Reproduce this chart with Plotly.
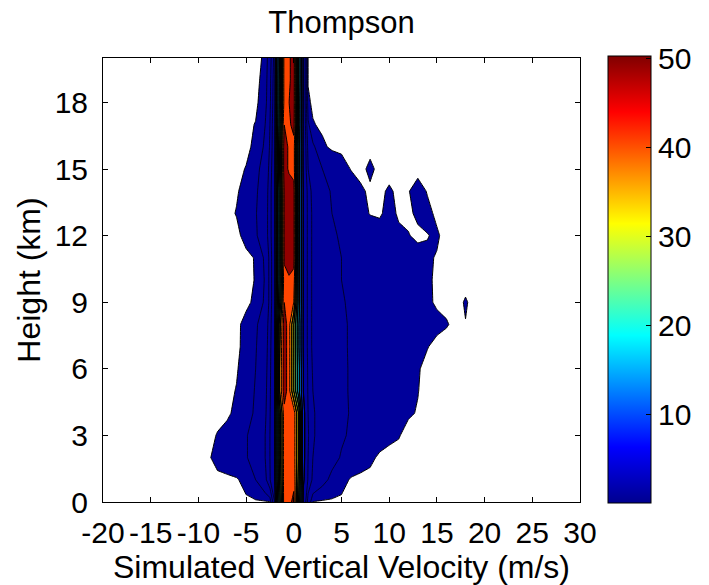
import plotly.graph_objects as go

# Velocity bin centres (m/s) and height levels (km)
velocity = [-10, -9, -8, -7, -6, -5, -4, -3, -2.5, -2, -1.5, -1, -0.5, 0, 0.5, 1, 1.5,
            2, 3, 4, 5, 6, 7, 8, 9, 10, 11, 12, 13, 14, 15, 16, 17, 18, 19]
height = [0, 1, 2, 3, 4, 5, 6, 7, 8, 9, 10, 11, 12, 13, 14, 15, 16, 17, 18, 19, 20]

# Frequency (%) of each velocity bin, one row per height level (bottom to top)
freq = [
    [0, 0, 0, 0, 0, 0, 0, 0, 0.03, 2.5, 22, 43, 44, 46, 25, 4, 1.0, 0.03, 0, 0, 0, 0, 0, 0, 0, 0, 0, 0, 0, 0, 0, 0, 0, 0, 0],
    [0, 0, 0, 0, 0.02, 0.15, 0.5, 1.2, 2.4, 4.5, 25, 43, 44, 44, 28, 5.5, 2.3, 1.3, 0.7, 0.35, 0.15, 0.02, 0, 0, 0, 0, 0, 0, 0, 0, 0, 0, 0, 0, 0],
    [0, 0.02, 0.12, 0.2, 0.32, 0.45, 0.8, 1.5, 2.5, 4.6, 26, 43, 44, 43, 30, 6, 2.5, 1.5, 1.0, 0.7, 0.45, 0.28, 0.16, 0.09, 0.02, 0, 0, 0, 0, 0, 0, 0, 0, 0, 0],
    [0, 0, 0.06, 0.15, 0.3, 0.45, 0.8, 1.5, 2.5, 4.6, 26, 43, 44, 43, 30, 6, 2.6, 1.6, 1.1, 0.8, 0.58, 0.42, 0.3, 0.21, 0.14, 0.09, 0.06, 0, 0, 0, 0, 0, 0, 0, 0],
    [0, 0, 0, 0, 0.12, 0.25, 0.6, 1.3, 2.4, 4.5, 26, 43, 44, 43, 30, 6, 2.5, 1.6, 1.1, 0.82, 0.62, 0.46, 0.35, 0.26, 0.19, 0.14, 0.1, 0.07, 0.04, 0, 0, 0, 0, 0, 0],
    [0, 0, 0, 0, 0.06, 0.2, 0.55, 1.2, 2.3, 4.4, 35, 48, 42, 30, 17, 5, 2.3, 1.5, 1.05, 0.8, 0.6, 0.45, 0.35, 0.26, 0.19, 0.14, 0.1, 0.075, 0.055, 0, 0, 0, 0, 0, 0],
    [0, 0, 0, 0, 0.03, 0.16, 0.5, 1.1, 2.2, 4.3, 35, 48, 42, 30, 17, 5, 2.2, 1.4, 1.0, 0.78, 0.6, 0.45, 0.35, 0.27, 0.2, 0.15, 0.11, 0.08, 0.06, 0.02, 0, 0, 0, 0, 0],
    [0, 0, 0, 0, 0, 0.13, 0.45, 1.0, 2.1, 4.2, 34, 48, 42, 30, 16, 4.5, 2.1, 1.3, 0.95, 0.75, 0.58, 0.45, 0.36, 0.29, 0.23, 0.18, 0.14, 0.11, 0.08, 0.055, 0.02, 0, 0, 0, 0],
    [0, 0, 0, 0, 0, 0.12, 0.4, 0.9, 2.0, 4.0, 32, 48, 42, 30, 16, 4.5, 2.1, 1.3, 0.95, 0.75, 0.58, 0.45, 0.36, 0.29, 0.23, 0.19, 0.16, 0.13, 0.11, 0.09, 0.08, 0.06, 0.02, 0.045, 0],
    [0, 0, 0, 0, 0, 0, 0.1, 0.6, 1.8, 3.8, 24, 45, 44, 40, 18, 4.5, 2.1, 1.3, 0.9, 0.7, 0.55, 0.42, 0.33, 0.26, 0.21, 0.17, 0.14, 0.12, 0.1, 0.07, 0.035, 0.02, 0, 0.065, 0],
    [0, 0, 0, 0, 0, 0, 0.06, 0.55, 1.8, 3.8, 22, 43, 44, 43, 18, 4.5, 2.1, 1.3, 0.9, 0.65, 0.5, 0.4, 0.32, 0.26, 0.21, 0.17, 0.14, 0.12, 0.1, 0.07, 0.03, 0, 0, 0, 0],
    [0, 0, 0, 0, 0, 0, 0.065, 0.6, 1.8, 3.8, 22, 46, 49, 47, 18, 4.5, 2.1, 1.3, 0.9, 0.65, 0.5, 0.38, 0.3, 0.24, 0.19, 0.16, 0.13, 0.11, 0.09, 0.07, 0.04, 0, 0, 0, 0],
    [0, 0, 0, 0, 0, 0.12, 0.4, 1.0, 2.0, 4.0, 22, 46, 49, 47, 18, 4.5, 2.1, 1.3, 0.85, 0.6, 0.42, 0.3, 0.22, 0.17, 0.12, 0.1, 0.08, 0.055, 0.03, 0.045, 0.07, 0, 0, 0, 0],
    [0, 0, 0, 0, 0.06, 0.15, 0.45, 1.0, 2.0, 4.0, 22, 46, 49, 47, 18, 4.5, 2.1, 1.3, 0.8, 0.5, 0.35, 0.22, 0.12, 0.04, 0.03, 0.1, 0.03, 0.03, 0.07, 0.09, 0.02, 0, 0, 0, 0],
    [0, 0, 0, 0, 0.03, 0.12, 0.4, 0.9, 2.0, 4.0, 22, 46, 49, 47, 18, 4.5, 2.0, 1.2, 0.7, 0.45, 0.3, 0.18, 0.08, 0.02, 0.02, 0.07, 0.02, 0.04, 0.12, 0.04, 0, 0, 0, 0, 0],
    [0, 0, 0, 0, 0, 0.06, 0.3, 0.8, 1.8, 3.8, 25, 48, 44, 43, 18, 4, 1.5, 0.9, 0.5, 0.3, 0.15, 0.04, 0, 0.09, 0, 0, 0, 0, 0, 0, 0, 0, 0, 0, 0],
    [0, 0, 0, 0, 0, 0, 0.1, 0.6, 1.6, 3.6, 24, 48, 44, 43, 18, 4, 1.2, 0.6, 0.1, 0, 0, 0, 0, 0, 0, 0, 0, 0, 0, 0, 0, 0, 0, 0, 0],
    [0, 0, 0, 0, 0, 0, 0.06, 0.5, 1.5, 3.5, 22, 45, 44, 47, 19, 4, 0.6, 0.07, 0, 0, 0, 0, 0, 0, 0, 0, 0, 0, 0, 0, 0, 0, 0, 0, 0],
    [0, 0, 0, 0, 0, 0, 0, 0.2, 1.3, 3.3, 21, 42, 45, 48, 19, 4, 0.1, 0, 0, 0, 0, 0, 0, 0, 0, 0, 0, 0, 0, 0, 0, 0, 0, 0, 0],
    [0, 0, 0, 0, 0, 0, 0, 0.12, 1.2, 3.2, 21, 42, 44, 48, 20, 4, 0.03, 0, 0, 0, 0, 0, 0, 0, 0, 0, 0, 0, 0, 0, 0, 0, 0, 0, 0],
    [0, 0, 0, 0, 0, 0, 0, 0.08, 1.0, 3.0, 20, 42, 44, 48, 20, 4, 0.02, 0, 0, 0, 0, 0, 0, 0, 0, 0, 0, 0, 0, 0, 0, 0, 0, 0, 0],
]
for row in freq:
    assert len(row) == len(velocity)
assert len(freq) == len(height)

x_ticks = [-20, -15, -10, -5, 0, 5, 10, 15, 20, 25, 30]
y_ticks = [0, 3, 6, 9, 12, 15, 18]
cbar_ticks = [10, 20, 30, 40, 50]

# Filled bands: below 0.05 blank, then one jet colour per 5 % band
band_colors = ['rgb(0,0,155)', 'rgb(0,30,255)', 'rgb(0,128,255)', 'rgb(0,220,255)',
               'rgb(70,255,190)', 'rgb(180,255,80)', 'rgb(255,230,0)', 'rgb(255,140,0)',
               'rgb(255,70,0)', 'rgb(145,0,0)']
fill_scale = [[0.0, 'rgb(255,255,255)'], [0.05, 'rgb(255,255,255)']]
for k, c in enumerate(band_colors):
    lo = round(0.05 + 0.1 * k, 4)
    hi = round(min(1.0, 0.15 + 0.1 * k), 4)
    fill_scale.append([lo, c])
    fill_scale.append([hi, c])

jet = [[0.0, 'rgb(0,0,143)'], [0.125, 'rgb(0,0,255)'], [0.375, 'rgb(0,255,255)'],
       [0.625, 'rgb(255,255,0)'], [0.875, 'rgb(255,0,0)'], [1.0, 'rgb(128,0,0)']]

font_family = 'Liberation Sans, Arial, sans-serif'

fig = go.Figure()

fig.add_trace(go.Contour(
    x=velocity, y=height, z=freq,
    autocontour=False,
    contours=dict(start=0.05, end=45.1, size=5, coloring='fill', showlines=True),
    line=dict(color='black', width=1.0, smoothing=0),
    colorscale=fill_scale, showscale=False, hoverinfo='skip',
))

# Heavier outlines for the steep levels along the edges of the central core
fig.add_trace(go.Contour(
    x=velocity, y=height, z=freq,
    autocontour=False,
    contours=dict(start=5.05, end=35.1, size=5, coloring='none', showlines=True),
    line=dict(color='black', width=1.25, smoothing=0),
    showscale=False, hoverinfo='skip',
))

# Extra low-frequency contour lines inside the outer band
fig.add_trace(go.Contour(
    x=velocity, y=height, z=freq,
    autocontour=False,
    contours=dict(start=0.5, end=2.6, size=1, coloring='none', showlines=True),
    line=dict(color='black', width=0.7, smoothing=0),
    showscale=False, hoverinfo='skip',
))

# Colour bar
fig.add_trace(go.Scatter(
    x=[None], y=[None], mode='markers', showlegend=False, hoverinfo='skip',
    marker=dict(color=[0], cmin=0, cmax=50.3, colorscale=jet, showscale=True,
                colorbar=dict(thickness=43, thicknessmode='pixels',
                              len=447, lenmode='pixels',
                              x=1.058, xanchor='left', xpad=0,
                              y=0.501, yanchor='middle', ypad=0,
                              outlinewidth=1, outlinecolor='black',
                              tickvals=cbar_ticks, ticks='inside', ticklen=5,
                              tickcolor='black',
                              tickfont=dict(size=30, family=font_family, color='black'))),
))

axis_common = dict(showline=True, linecolor='black', linewidth=1, mirror='ticks',
                   ticks='inside', ticklen=5, tickcolor='black', showgrid=False,
                   zeroline=False, automargin=False, tickangle=0,
                   tickfont=dict(size=30, family=font_family, color='black'))

fig.update_xaxes(range=[-20, 30], tickvals=x_ticks,
                 ticktext=[str(v) for v in x_ticks], ticklabelstandoff=4,
                 title=dict(text='Simulated Vertical Velocity (m/s)', standoff=0,
                            font=dict(size=32, family=font_family, color='black')),
                 **axis_common)
fig.update_yaxes(range=[0, 20], tickvals=y_ticks,
                 ticktext=[str(v) for v in y_ticks], ticklabelstandoff=8,
                 title=dict(text='Height (km)', standoff=4,
                            font=dict(size=32, family=font_family, color='black')),
                 **axis_common)

fig.update_layout(
    width=709, height=585,
    margin=dict(l=103, r=123, t=58, b=83),
    paper_bgcolor='white', plot_bgcolor='white',
    font=dict(family=font_family, size=30, color='black'),
    title=dict(text='Thompson', x=0.5, xref='paper', xanchor='center',
               y=1 - 22 / 585, yref='container', yanchor='middle',
               font=dict(size=31, family=font_family, color='black')),
    showlegend=False,
)

fig.write_html('out.html')
